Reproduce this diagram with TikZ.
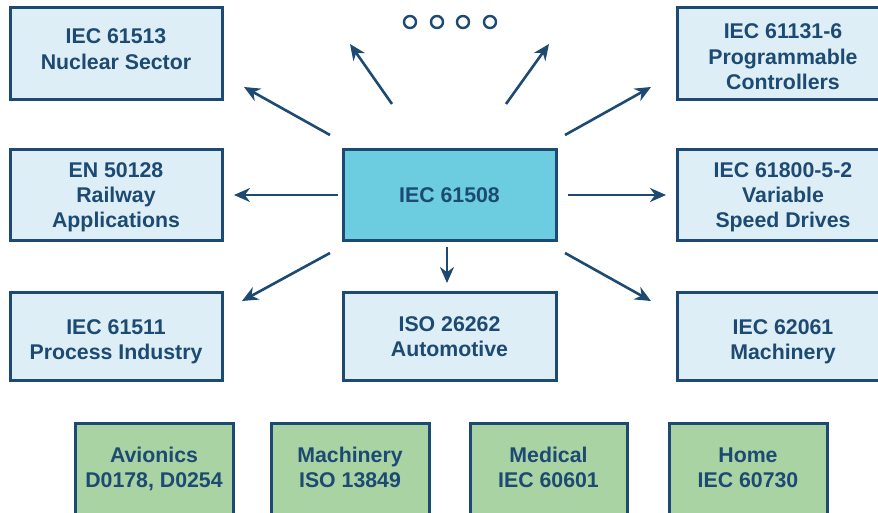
\documentclass[tikz,border=0pt]{standalone}
\usepackage{fontspec}
\setmainfont{Liberation Sans}
\usetikzlibrary{arrows.meta}
\definecolor{navy}{HTML}{1C4A72}
\definecolor{lightbox}{HTML}{DDEEF6}
\definecolor{centerbox}{HTML}{6CCDE0}
\definecolor{greenbox}{HTML}{A9D3A3}
\begin{document}
\begin{tikzpicture}[x=1pt,y=-1pt,
  stdbox/.style={draw=navy,line width=3pt,fill=lightbox,text=navy,font=\fontsize{21.3}{25.3}\selectfont\bfseries,align=center,inner sep=0pt,minimum height=88pt},
  greenstd/.style={stdbox,fill=greenbox,minimum width=158pt,minimum height=92pt},
  tx/.style 2 args={text height=#1pt,text depth=#2pt},
  arr/.style={draw=navy,line width=2.6pt,-{Stealth[length=16pt,width=14pt]}},
  dot/.style={circle,draw=navy,line width=2.4pt,minimum size=12pt,inner sep=0pt}]
\useasboundingbox (0,0) rectangle (878,513);
% left column
\node[stdbox,minimum width=212pt,minimum height=92pt,tx={43.6}{13}] (l1) at (116,54) {IEC 61513\\Nuclear Sector};
\node[stdbox,minimum width=212pt,minimum height=90pt,tx={73.9}{8}] (l2) at (116,195) {EN 50128\\Railway\\Applications};
\node[stdbox,minimum width=212pt,tx={51.6}{5}] (l3) at (116,336) {IEC 61511\\Process Industry};
% center
\node[stdbox,fill=centerbox,minimum width=213pt,minimum height=90pt,tx={23.3}{8}] (c) at (449.5,195) {IEC 61508};
\node[stdbox,minimum width=213pt,tx={48.6}{8}] (iso) at (449.5,336) {ISO 26262\\Automotive};
% right column
\node[stdbox,minimum width=212pt,minimum height=92pt,tx={76.4}{5.5}] (r1) at (783,54) {IEC 61131-6\\Programmable\\Controllers};
\node[stdbox,minimum width=212pt,minimum height=90pt,tx={73.9}{8}] (r2) at (783,195) {IEC 61800-5-2\\Variable\\Speed Drives};
\node[stdbox,minimum width=212pt,tx={51.6}{5}] (r3) at (783,336) {IEC 62061\\Machinery};
% bottom green
\node[greenstd,tx={47.1}{9.5}] (g1) at (154,469) {Avionics\\D0178, D0254};
\node[greenstd,tx={47.1}{9.5}] (g2) at (350,469) {Machinery\\ISO 13849};
\node[greenstd,minimum width=157pt,tx={47.1}{9.5}] (g3) at (548.5,469) {Medical\\IEC 60601};
\node[greenstd,tx={47.1}{9.5}] (g4) at (748,469) {Home\\IEC 60730};
% dots
\node[dot] (d1) at (410,22) {};
\node[dot] (d2) at (437,22) {};
\node[dot] (d3) at (463,22) {};
\node[dot] (d4) at (490,22) {};
% arrow endpoints
\coordinate (s1) at (330,135); \coordinate (e1) at (244,87);
\coordinate (s2) at (392,104); \coordinate (e2) at (350,44);
\coordinate (s3) at (506,104); \coordinate (e3) at (549,44);
\coordinate (s4) at (565,135); \coordinate (e4) at (651,87);
\coordinate (s5) at (338,195); \coordinate (e5) at (234,195);
\coordinate (s6) at (568,195); \coordinate (e6) at (666,195);
\coordinate (s7) at (330,253); \coordinate (e7) at (242,301);
\coordinate (s8) at (447,247); \coordinate (e8) at (447,283);
\coordinate (s9) at (565,253); \coordinate (e9) at (651,301);
\foreach \i in {1,...,9} {\draw[arr] (s\i) -- (e\i);}
\end{tikzpicture}
\end{document}
